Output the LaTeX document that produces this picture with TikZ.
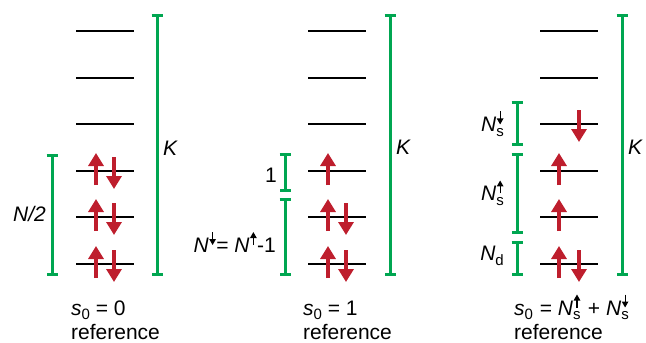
\documentclass[tikz,border=0pt]{standalone}
\usepackage{fontspec}
\setmainfont{Liberation Sans}
\usetikzlibrary{arrows.meta}
\definecolor{gbar}{RGB}{0,166,81}
\definecolor{earrow}{RGB}{190,30,45}
\newcommand{\labsz}{\fontsize{21}{21}\selectfont}
\newcommand{\botsz}{\fontsize{21}{21}\selectfont}
\newcommand{\scrsz}{\fontsize{15}{15}\selectfont}
\newcommand{\uarr}{\tikz[baseline=-7.5pt]\draw[black,line width=1.1pt,-{Triangle[width=6.5pt,length=6pt]}] (0pt,0pt) -- (0pt,13pt);}
\newcommand{\darr}{\tikz[baseline=-7.5pt]\draw[black,line width=1.1pt,-{Triangle[width=6.5pt,length=6pt]}] (0pt,13pt) -- (0pt,0pt);}
\newcommand{\mysub}[1]{\raisebox{-0.4ex}{\scrsz #1}}
\newcommand{\Nsup}{\textit{N}\rlap{\hspace{0.6pt}\uarr}\raisebox{-0.45ex}{\scrsz s}}
\newcommand{\Nsdn}{\textit{N}\rlap{\hspace{0.6pt}\darr}\raisebox{-0.45ex}{\scrsz s}}
\begin{document}
\begin{tikzpicture}[x=1pt,y=-1pt,
  level/.style={line width=2.2pt,black},
  gbarline/.style={line width=3pt,gbar,{Bar[width=11pt]}-{Bar[width=11pt]}},
  elecup/.style={line width=4.5pt,earrow,-{Triangle[width=15pt,length=13pt]}},
  lab/.style={font=\labsz,inner sep=0pt},
  bot/.style={font=\botsz,inner sep=0pt,anchor=base west,align=left}]
\useasboundingbox (0,0) rectangle (646,343);
% energy levels
\foreach \px in {76,308,540}{
  \foreach \ly in {31,78,124,171,217,264}{
    \draw[level] (\px,\ly) -- (\px+58,\ly);
  }
}
% K bars
\foreach \kx in {157,390,622}{
  \draw[gbarline] (\kx,276) -- (\kx,14);
}
% panel 1
\draw[gbarline] (52,276) -- (52,154);
\foreach \ly in {171,217,264}{
  \draw[elecup] (96,\ly+14) -- (96,\ly-18);
  \draw[elecup] (114,\ly-14) -- (114,\ly+18);
}
\node[lab,anchor=east] (nhalf) at (46,214) {\textit{N/2}};
\node[lab,anchor=west] (k1) at (163,148) {\textit{K}};
\node[bot] (s1) at (71,315) {\textit{s}\mysub{0} = 0};
\node[bot] (r1) at (71,339) {reference};
% panel 2
\draw[gbarline] (285,192) -- (285,153);
\draw[gbarline] (285,276) -- (285,198);
\draw[elecup] (328,171+14) -- (328,171-18);
\foreach \ly in {217,264}{
  \draw[elecup] (328,\ly+14) -- (328,\ly-18);
  \draw[elecup] (346,\ly-14) -- (346,\ly+18);
}
\node[lab,anchor=east] (one) at (277,175) {1};
\node[lab,anchor=east] (nn) at (276,242) {\textit{N}\hspace{0.5pt}\darr\hspace{0.5pt}= \textit{N}\hspace{0.5pt}\uarr\hspace{0.5pt}-1};
\node[lab,anchor=west] (k2) at (396,147) {\textit{K}};
\node[bot] (s2) at (303,315) {\textit{s}\mysub{0} = 1};
\node[bot] (r2) at (303,339) {reference};
% panel 3
\draw[gbarline] (517,146) -- (517,101);
\draw[gbarline] (517,234) -- (517,153);
\draw[gbarline] (517,276) -- (517,241);
\draw[elecup] (579,124-14) -- (579,124+18);
\draw[elecup] (559,171+14) -- (559,171-18);
\draw[elecup] (559,217+14) -- (559,217-18);
\draw[elecup] (559,264+14) -- (559,264-18);
\draw[elecup] (579,264-14) -- (579,264+18);
\node[lab,anchor=east] (nsd) at (504,124) {\Nsdn};
\node[lab,anchor=east] (nsu) at (504,193) {\Nsup};
\node[lab,anchor=east] (nd) at (504,256) {\textit{N}\mysub{d}};
\node[lab,anchor=west] (k3) at (628,147) {\textit{K}};
\node[bot] (s3) at (514,315) {\textit{s}\mysub{0}\hspace{1pt} = \Nsup{}\hspace{1.5pt} + \Nsdn};
\node[bot] (r3) at (514,339) {reference};
\end{tikzpicture}
\end{document}
